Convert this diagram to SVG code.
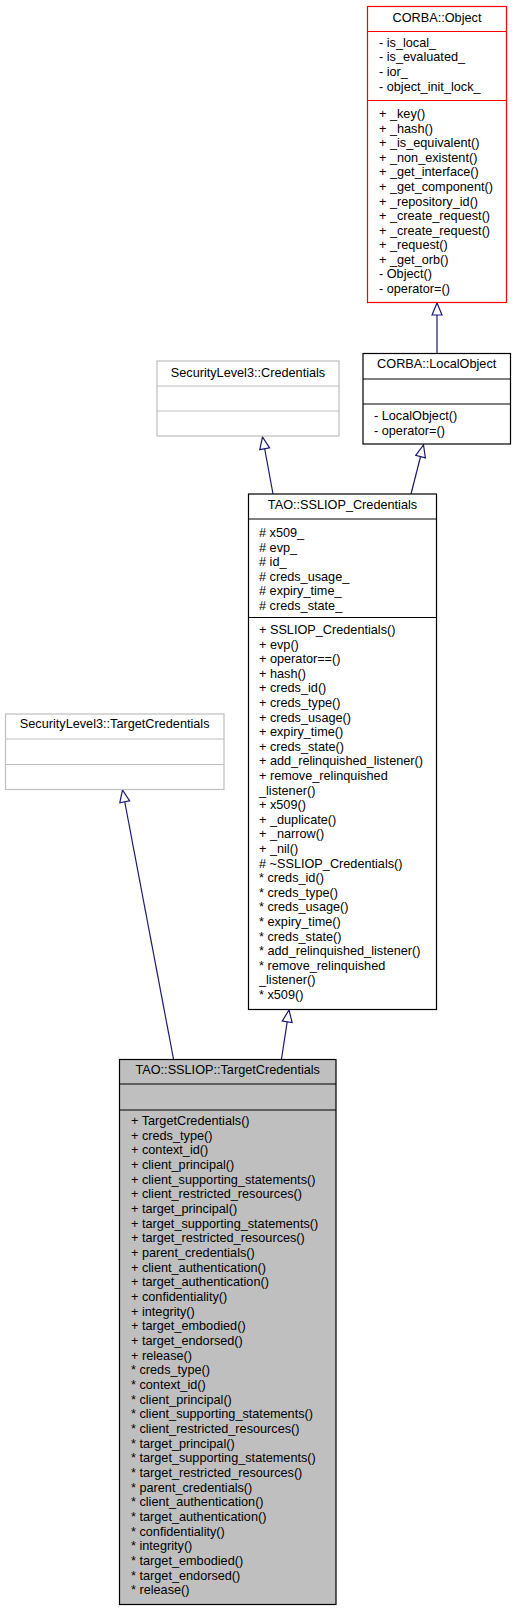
<svg xmlns="http://www.w3.org/2000/svg" width="516" height="1611" viewBox="0 0 516 1611">
<defs>
<style>
text{font-family:"Liberation Sans",Arial,Helvetica,sans-serif;font-size:12.7px;fill:#000}
.t{text-anchor:middle}
.box{fill:#fff;stroke:#000;stroke-width:1.2}
.gray{fill:#fff;stroke:#bfbfbf;stroke-width:1.2}
.red{fill:#fff;stroke:#ff0000;stroke-width:1.2}
.cur{fill:#bfbfbf;stroke:#000;stroke-width:1.2}
.sepb{stroke:#000;stroke-width:1.2}
.sepg{stroke:#bfbfbf;stroke-width:1.2}
.sepr{stroke:#ff0000;stroke-width:1.2}
.edge{stroke:#191970;stroke-width:1.2;fill:none;marker-end:url(#inh)}
</style>
<marker id="inh" markerUnits="userSpaceOnUse" viewBox="-1 -1 14 12" markerWidth="14" markerHeight="12" refX="12" refY="5" orient="auto">
<path d="M0,0 L12,5 L0,10 Z" fill="#fff" stroke="#191970" stroke-width="1.2"/>
</marker>
</defs>

<g id="connectors">
<line class="edge" x1="437" y1="353" x2="437" y2="303"/>
<line class="edge" x1="273" y1="494" x2="262.5" y2="437"/>
<line class="edge" x1="411" y1="494" x2="423.5" y2="445"/>
<line class="edge" x1="173.5" y1="1059" x2="122.5" y2="790"/>
<line class="edge" x1="281.5" y1="1059" x2="289" y2="1010"/>
</g>

<g id="corba_object">
<rect class="red" x="367.5" y="6.5" width="139" height="296"/>
<line class="sepr" x1="367.5" y1="31.5" x2="506.5" y2="31.5"/>
<line class="sepr" x1="367.5" y1="100.5" x2="506.5" y2="100.5"/>
<text class="t" x="437" y="21.7">CORBA::Object</text>
<text x="379" y="46.7">- is_local_</text>
<text x="379" y="61.3">- is_evaluated_</text>
<text x="379" y="75.9">- ior_</text>
<text x="379" y="90.5">- object_init_lock_</text>
<text x="379" y="118.3">+ _key()</text>
<text x="379" y="132.8">+ _hash()</text>
<text x="379" y="147.4">+ _is_equivalent()</text>
<text x="379" y="161.9">+ _non_existent()</text>
<text x="379" y="176.4">+ _get_interface()</text>
<text x="379" y="191">+ _get_component()</text>
<text x="379" y="205.5">+ _repository_id()</text>
<text x="379" y="220">+ _create_request()</text>
<text x="379" y="234.5">+ _create_request()</text>
<text x="379" y="249.1">+ _request()</text>
<text x="379" y="263.6">+ _get_orb()</text>
<text x="379" y="278.1">- Object()</text>
<text x="379" y="292.7">- operator=()</text>
</g>

<g id="corba_localobject">
<rect class="box" x="363" y="353.5" width="147.5" height="90.5"/>
<line class="sepb" x1="363" y1="379" x2="510.5" y2="379"/>
<line class="sepb" x1="363" y1="404" x2="510.5" y2="404"/>
<text class="t" x="436.7" y="368.3">CORBA::LocalObject</text>
<text x="374" y="420">- LocalObject()</text>
<text x="374" y="434.5">- operator=()</text>
</g>

<g id="sl3_credentials">
<rect class="gray" x="157" y="361" width="182" height="75"/>
<line class="sepg" x1="157" y1="386" x2="339" y2="386"/>
<line class="sepg" x1="157" y1="411" x2="339" y2="411"/>
<text class="t" x="248" y="376.7">SecurityLevel3::Credentials</text>
</g>

<g id="sslioc_credentials">
<rect class="box" x="248.5" y="494" width="188" height="515.5"/>
<line class="sepb" x1="248.5" y1="519" x2="436.5" y2="519"/>
<line class="sepb" x1="248.5" y1="617.5" x2="436.5" y2="617.5"/>
<text class="t" x="342.5" y="509.3">TAO::SSLIOP_Credentials</text>
<text x="259" y="537.3"># x509_</text>
<text x="259" y="551.8"># evp_</text>
<text x="259" y="566.3"># id_</text>
<text x="259" y="580.8"># creds_usage_</text>
<text x="259" y="595.3"># expiry_time_</text>
<text x="259" y="609.8"># creds_state_</text>
<text x="259" y="634">+ SSLIOP_Credentials()</text>
<text x="259" y="648.6">+ evp()</text>
<text x="259" y="663.2">+ operator==()</text>
<text x="259" y="677.8">+ hash()</text>
<text x="259" y="692.4">+ creds_id()</text>
<text x="259" y="707">+ creds_type()</text>
<text x="259" y="721.6">+ creds_usage()</text>
<text x="259" y="736.2">+ expiry_time()</text>
<text x="259" y="750.8">+ creds_state()</text>
<text x="259" y="765.4">+ add_relinquished_listener()</text>
<text x="259" y="780">+ remove_relinquished</text>
<text x="259" y="794.6">_listener()</text>
<text x="259" y="809.2">+ x509()</text>
<text x="259" y="823.8">+ _duplicate()</text>
<text x="259" y="838.4">+ _narrow()</text>
<text x="259" y="853">+ _nil()</text>
<text x="259" y="867.6"># ~SSLIOP_Credentials()</text>
<text x="259" y="882.2">* creds_id()</text>
<text x="259" y="896.8">* creds_type()</text>
<text x="259" y="911.4">* creds_usage()</text>
<text x="259" y="926">* expiry_time()</text>
<text x="259" y="940.6">* creds_state()</text>
<text x="259" y="955.2">* add_relinquished_listener()</text>
<text x="259" y="969.8">* remove_relinquished</text>
<text x="259" y="984.4">_listener()</text>
<text x="259" y="999">* x509()</text>
</g>

<g id="sl3_targetcredentials">
<rect class="gray" x="5.5" y="714" width="218.5" height="75.5"/>
<line class="sepg" x1="5.5" y1="739" x2="224" y2="739"/>
<line class="sepg" x1="5.5" y1="764.5" x2="224" y2="764.5"/>
<text class="t" x="114.7" y="728.3">SecurityLevel3::TargetCredentials</text>
</g>

<g id="sslioc_targetcredentials">
<rect class="cur" x="119.5" y="1059.5" width="216.5" height="545"/>
<line class="sepb" x1="119.5" y1="1084" x2="336" y2="1084"/>
<line class="sepb" x1="119.5" y1="1110" x2="336" y2="1110"/>
<text class="t" x="227.7" y="1074">TAO::SSLIOP::TargetCredentials</text>
<text x="131" y="1125">+ TargetCredentials()</text>
<text x="131" y="1139.7">+ creds_type()</text>
<text x="131" y="1154.3">+ context_id()</text>
<text x="131" y="1169">+ client_principal()</text>
<text x="131" y="1183.6">+ client_supporting_statements()</text>
<text x="131" y="1198.3">+ client_restricted_resources()</text>
<text x="131" y="1213">+ target_principal()</text>
<text x="131" y="1227.6">+ target_supporting_statements()</text>
<text x="131" y="1242.3">+ target_restricted_resources()</text>
<text x="131" y="1256.9">+ parent_credentials()</text>
<text x="131" y="1271.6">+ client_authentication()</text>
<text x="131" y="1286.3">+ target_authentication()</text>
<text x="131" y="1300.9">+ confidentiality()</text>
<text x="131" y="1315.6">+ integrity()</text>
<text x="131" y="1330.2">+ target_embodied()</text>
<text x="131" y="1344.9">+ target_endorsed()</text>
<text x="131" y="1359.6">+ release()</text>
<text x="131" y="1374.2">* creds_type()</text>
<text x="131" y="1388.9">* context_id()</text>
<text x="131" y="1403.5">* client_principal()</text>
<text x="131" y="1418.2">* client_supporting_statements()</text>
<text x="131" y="1432.9">* client_restricted_resources()</text>
<text x="131" y="1447.5">* target_principal()</text>
<text x="131" y="1462.2">* target_supporting_statements()</text>
<text x="131" y="1476.8">* target_restricted_resources()</text>
<text x="131" y="1491.5">* parent_credentials()</text>
<text x="131" y="1506.2">* client_authentication()</text>
<text x="131" y="1520.8">* target_authentication()</text>
<text x="131" y="1535.5">* confidentiality()</text>
<text x="131" y="1550.1">* integrity()</text>
<text x="131" y="1564.8">* target_embodied()</text>
<text x="131" y="1579.5">* target_endorsed()</text>
<text x="131" y="1594.1">* release()</text>
</g>
</svg>
